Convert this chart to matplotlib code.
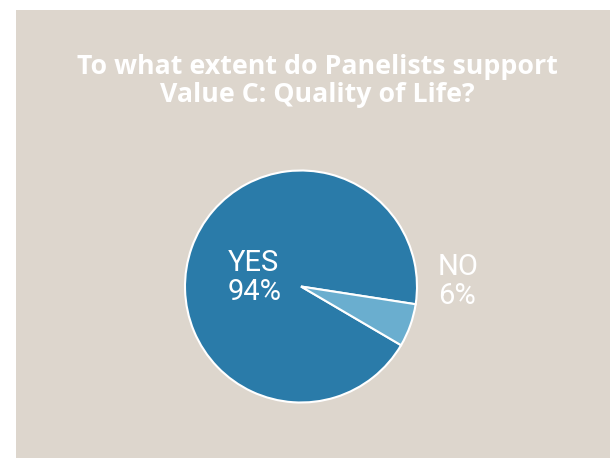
import matplotlib
matplotlib.use('Agg')
import matplotlib.pyplot as plt
from matplotlib.patches import Rectangle

# 데이터
labels = ['YES', 'NO']
values = [94, 6]
colors = ['#2a7ba9', '#6aaecf']
title = 'To what extent do Panelists support\nValue C: Quality of Life?'

W, H = 610, 458
bg = '#ddd6cd'

fig = plt.figure(figsize=(W / 100, H / 100), dpi=100)
fig.patch.set_facecolor('white')

# 베이지 배경 영역
fig.patches.append(Rectangle((16 / W, 0), 1 - 16 / W, (H - 10) / H,
                             transform=fig.transFigure, facecolor=bg,
                             edgecolor='none', zorder=-5))

# 제목
fig.text(317 / W, 1 - 81 / H, title, ha='center', va='center',
         color='white', fontsize=19.3, fontweight='bold', family='Open Sans',
         linespacing=1.1)

# 파이 차트
cx, cy, r = 301, 286.5, 116
ax = fig.add_axes([(cx - r) / W, (H - cy - r) / H, 2 * r / W, 2 * r / H])
ax.set_zorder(2)
ax.pie(values, colors=colors, startangle=-30.4, counterclock=False,
       wedgeprops=dict(edgecolor='white', linewidth=1.5, clip_on=False))
ax.set_xlim(-1.0, 1.0)
ax.set_ylim(-1.0, 1.0)
ax.axis('off')

# 라벨
fig.text(228 / W, 1 - 249 / H, f'{labels[0]}\n{values[0]}%', ha='left', va='top',
         color='white', fontsize=21, family='Roboto', linespacing=1.05,
         zorder=5)
fig.text(438 / W, 1 - 253 / H, f'{labels[1]}\n{values[1]}%', ha='left', va='top',
         color='white', fontsize=21, family='Roboto', linespacing=1.05,
         zorder=5)

fig.savefig('out.png', dpi=100)
